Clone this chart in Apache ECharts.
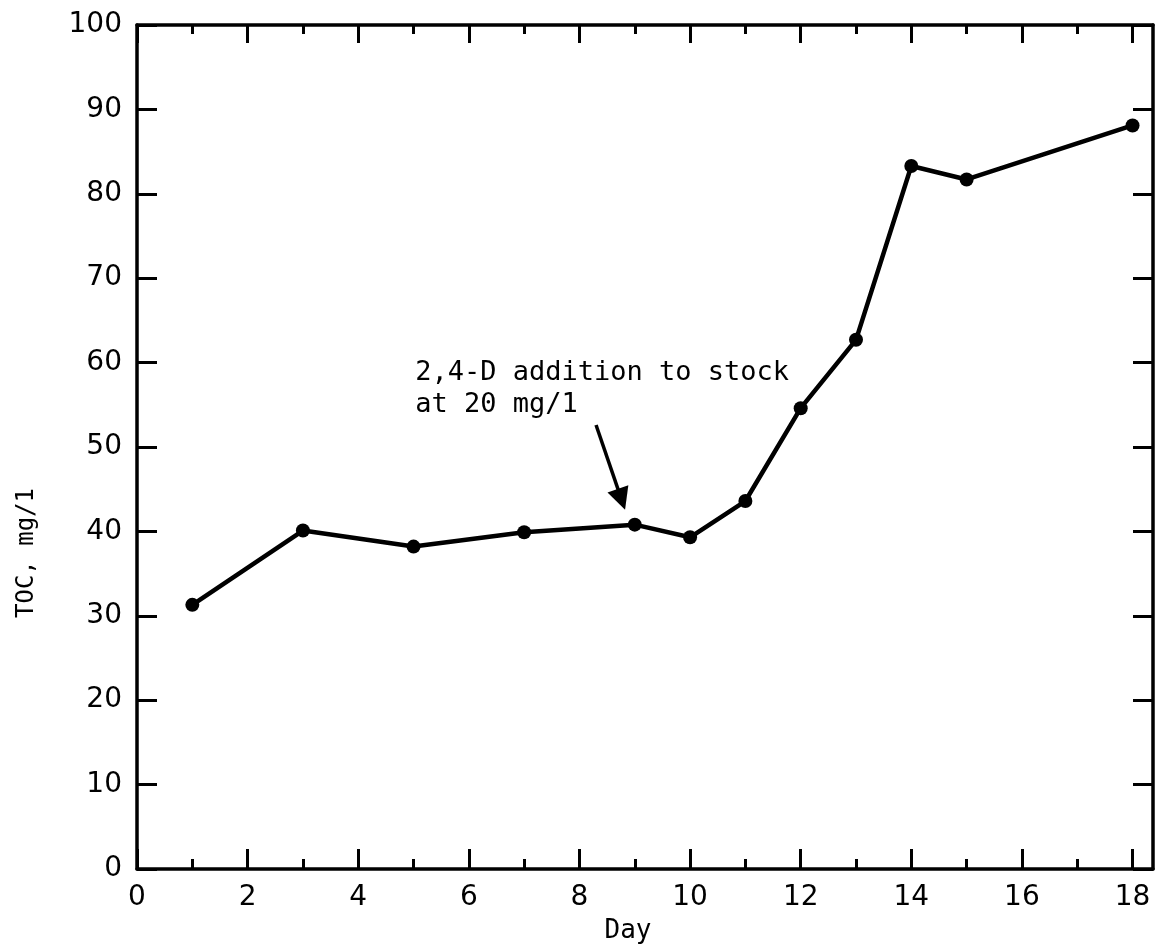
<!DOCTYPE html>
<html>
<head>
<meta charset="utf-8">
<script src="https://cdn.jsdelivr.net/npm/echarts@6/dist/echarts.min.js"></script>
<style>
  html, body { margin: 0; padding: 0; background: #fff; }
  #chart { width: 1155px; height: 948px; }
</style>
</head>
<body>
<div id="chart"></div>
<script>
/* data */
var days = [1, 3, 5, 7, 9, 10, 11, 12, 13, 14, 15, 18];
var toc  = [31.3, 40.1, 38.2, 39.9, 40.8, 39.3, 43.6, 54.6, 62.7, 83.3, 81.7, 88.1];

var majorTicks = [0, 2, 4, 6, 8, 10, 12, 14, 16, 18];
var minorTicks = [1, 3, 5, 7, 9, 11, 13, 15, 17];

var noteText = ['2,4-D addition to stock', 'at 20 mg/1'];
var noteAt   = [5.03, 60.7];
var arrowFrom = [8.30, 52.6];
var arrowTo   = [8.76, 43.8];

var pairs = days.map(function (d, i) { return [d, toc[i]]; });

var tickFont = 'DejaVu Sans';
var monoFont = 'DejaVu Sans Mono';
var ink = '#000';

function xAx(pos, ticks, len, withLine, withLabel) {
    return {
        type: 'value', position: pos, min: 0, max: 18.37,
        axisLine: { show: withLine, onZero: false, lineStyle: { color: ink, width: 3.5 } },
        axisTick: { show: true, inside: true, length: len, customValues: ticks,
                    lineStyle: { color: ink, width: 3 } },
        axisLabel: { show: withLabel, customValues: majorTicks, margin: 15,
                     color: ink, fontFamily: tickFont, fontSize: 28 },
        splitLine: { show: false }
    };
}

var option = {
    backgroundColor: '#fff',
    animation: false,
    grid: { left: 137, right: 2, top: 25, bottom: 79, outerBoundsMode: 'none' },
    xAxis: [
        Object.assign(xAx('bottom', majorTicks, 20, true, true), {
            name: 'Day', nameLocation: 'middle', nameGap: 49,
            nameTextStyle: { color: ink, fontFamily: monoFont, fontSize: 26, padding: [0, 34, 0, 0] }
        }),
        xAx('bottom', minorTicks, 10, false, false),
        xAx('top', majorTicks, 18, true, false),
        xAx('top', minorTicks, 9, false, false)
    ],
    yAxis: [
        {
            type: 'value', position: 'left', min: 0, max: 100, interval: 10,
            name: 'TOC, mg/1', nameLocation: 'middle', nameGap: 98, nameRotate: 90,
            nameTextStyle: { color: ink, fontFamily: monoFont, fontSize: 24, padding: [0, 212, 0, 0] },
            axisLine: { show: true, onZero: false, lineStyle: { color: ink, width: 3.5 } },
            axisTick: { inside: true, length: 20, lineStyle: { color: ink, width: 3 } },
            axisLabel: { margin: 15, color: ink, fontFamily: tickFont, fontSize: 28 },
            splitLine: { show: false }
        },
        {
            type: 'value', position: 'right', min: 0, max: 100, interval: 10,
            axisLine: { show: true, onZero: false, lineStyle: { color: ink, width: 3.5 } },
            axisTick: { inside: true, length: 20, lineStyle: { color: ink, width: 3 } },
            axisLabel: { show: false },
            splitLine: { show: false }
        }
    ],
    series: [{
        type: 'line',
        data: pairs,
        symbol: 'circle',
        symbolSize: 14,
        lineStyle: { color: ink, width: 4.5 },
        itemStyle: { color: ink },
        markLine: {
            silent: true,
            symbol: ['none', 'triangle'],
            symbolSize: 22,
            lineStyle: { color: ink, width: 3.5, type: 'solid' },
            label: { show: false },
            data: [[{ coord: arrowFrom }, { coord: arrowTo }]]
        },
        markPoint: {
            silent: true,
            symbol: 'circle',
            symbolSize: 0,
            data: [{ coord: noteAt }],
            label: {
                show: true, position: 'inside', align: 'left', verticalAlign: 'top',
                formatter: noteText.join('\n'),
                color: ink, fontFamily: monoFont, fontSize: 27, lineHeight: 32
            }
        }
    }]
};

var chart = echarts.init(document.getElementById('chart'));
chart.setOption(option);
</script>
</body>
</html>
